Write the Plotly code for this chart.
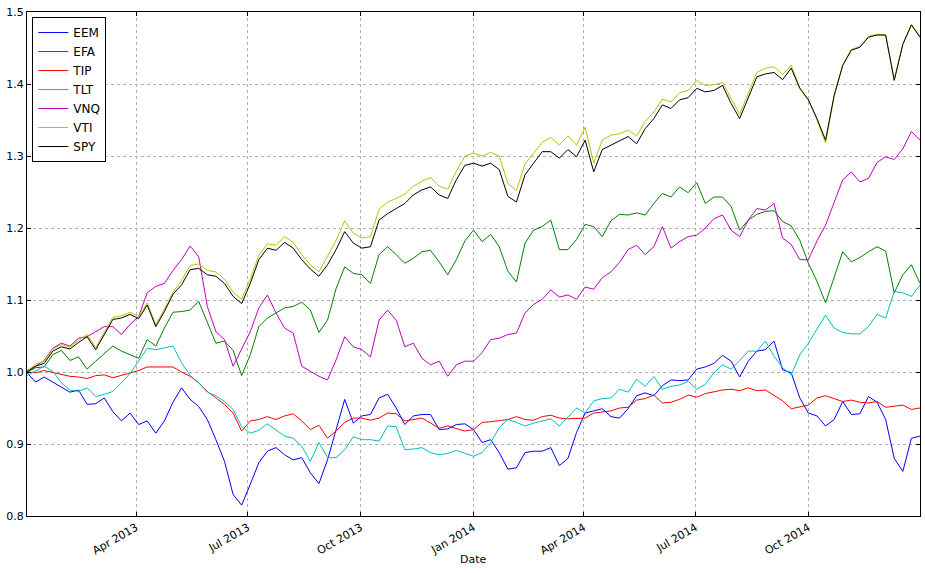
import pandas as pd
import plotly.graph_objects as go

dates = pd.date_range("2013-01-02", periods=105, freq="7D")

EEM = [0.999, 0.986, 0.993, 0.986, 0.980, 0.972, 0.975, 0.955, 0.956, 0.964, 0.945, 0.932, 0.943, 0.927, 0.932, 0.915, 0.932, 0.958,
       0.978, 0.962, 0.952, 0.934, 0.906, 0.876, 0.830, 0.815, 0.844, 0.874, 0.890, 0.895, 0.885, 0.878, 0.881, 0.860, 0.845,
       0.878, 0.920, 0.962, 0.929, 0.939, 0.941, 0.964, 0.969, 0.950, 0.927, 0.939, 0.941, 0.941, 0.920, 0.921, 0.927, 0.928,
       0.920, 0.902, 0.906, 0.888, 0.865, 0.867, 0.888, 0.890, 0.890, 0.895, 0.870, 0.880, 0.916, 0.943, 0.946, 0.949, 0.938,
       0.936, 0.949, 0.967, 0.971, 0.967, 0.981, 0.989, 0.988, 0.989, 1.004, 1.007, 1.012, 1.023, 1.015, 0.993, 1.015, 1.029,
       1.031, 1.043, 1.003, 0.999, 0.964, 0.943, 0.939, 0.925, 0.934, 0.959, 0.941, 0.942, 0.966, 0.958, 0.934, 0.880, 0.862, 0.908, 0.911]

EFA = [1.000, 1.006, 1.007, 1.024, 1.030, 1.016, 1.021, 1.004, 1.015, 1.026, 1.036, 1.029, 1.024, 1.019, 1.045, 1.036, 1.061, 1.083,
       1.084, 1.086, 1.098, 1.068, 1.040, 1.043, 1.030, 0.995, 1.024, 1.063, 1.075, 1.082, 1.089, 1.091, 1.097, 1.086, 1.055,
       1.072, 1.116, 1.146, 1.137, 1.135, 1.123, 1.163, 1.174, 1.163, 1.151, 1.158, 1.167, 1.169, 1.153, 1.135, 1.156, 1.182,
       1.197, 1.181, 1.191, 1.174, 1.140, 1.125, 1.179, 1.197, 1.202, 1.211, 1.170, 1.170, 1.184, 1.205, 1.202, 1.188, 1.210,
       1.219, 1.218, 1.221, 1.218, 1.234, 1.248, 1.243, 1.257, 1.249, 1.263, 1.234, 1.243, 1.243, 1.230, 1.197, 1.211, 1.219,
       1.223, 1.224, 1.209, 1.203, 1.183, 1.151, 1.126, 1.096, 1.130, 1.167, 1.153, 1.159, 1.167, 1.174, 1.168, 1.110, 1.135, 1.149, 1.123]

TIP = [1.000, 0.999, 1.002, 0.999, 0.996, 0.994, 0.993, 0.991, 0.995, 0.996, 0.992, 0.995, 0.998, 1.002, 1.007, 1.007, 1.008, 1.007,
       1.000, 0.994, 0.985, 0.973, 0.964, 0.955, 0.943, 0.918, 0.932, 0.934, 0.938, 0.934, 0.939, 0.942, 0.932, 0.920, 0.926,
       0.908, 0.918, 0.930, 0.936, 0.936, 0.933, 0.936, 0.943, 0.942, 0.932, 0.934, 0.936, 0.929, 0.922, 0.925, 0.921, 0.918,
       0.920, 0.930, 0.931, 0.932, 0.934, 0.938, 0.934, 0.933, 0.938, 0.940, 0.936, 0.935, 0.935, 0.936, 0.943, 0.944, 0.946,
       0.950, 0.951, 0.961, 0.963, 0.968, 0.957, 0.958, 0.962, 0.968, 0.965, 0.970, 0.973, 0.975, 0.976, 0.974, 0.978, 0.974,
       0.975, 0.968, 0.960, 0.949, 0.951, 0.954, 0.964, 0.967, 0.963, 0.959, 0.961, 0.958, 0.957, 0.959, 0.951, 0.953, 0.954, 0.948, 0.950]

TLT = [0.995, 1.002, 1.008, 1.001, 0.985, 0.975, 0.973, 0.978, 0.966, 0.969, 0.973, 0.985, 0.998, 1.015, 1.033, 1.031, 1.033, 1.036,
       1.013, 0.995, 0.985, 0.972, 0.967, 0.959, 0.948, 0.924, 0.915, 0.919, 0.928, 0.920, 0.911, 0.908, 0.897, 0.876, 0.902,
       0.881, 0.881, 0.892, 0.910, 0.906, 0.906, 0.904, 0.925, 0.924, 0.892, 0.893, 0.895, 0.888, 0.885, 0.887, 0.891, 0.887,
       0.883, 0.888, 0.902, 0.923, 0.934, 0.930, 0.925, 0.929, 0.932, 0.935, 0.925, 0.938, 0.950, 0.943, 0.960, 0.963, 0.964,
       0.976, 0.972, 0.990, 0.980, 0.994, 0.976, 0.980, 0.982, 0.987, 0.976, 0.983, 0.999, 1.010, 1.004, 1.016, 1.029, 1.029,
       1.043, 1.022, 1.006, 0.996, 1.024, 1.040, 1.059, 1.079, 1.061, 1.055, 1.053, 1.053, 1.063, 1.080, 1.075, 1.112, 1.110, 1.105, 1.121]

VNQ = [1.002, 1.008, 1.016, 1.033, 1.040, 1.036, 1.047, 1.049, 1.056, 1.063, 1.063, 1.052, 1.066, 1.077, 1.110, 1.119, 1.123, 1.141,
       1.156, 1.175, 1.160, 1.091, 1.056, 1.045, 1.008, 1.031, 1.056, 1.089, 1.107, 1.082, 1.061, 1.054, 1.008, 1.001, 0.994,
       0.989, 1.017, 1.049, 1.035, 1.031, 1.021, 1.072, 1.086, 1.072, 1.035, 1.040, 1.019, 1.010, 1.015, 0.994, 1.010, 1.015,
       1.015, 1.027, 1.045, 1.047, 1.052, 1.054, 1.082, 1.094, 1.101, 1.114, 1.104, 1.107, 1.101, 1.118, 1.115, 1.131, 1.139,
       1.152, 1.170, 1.176, 1.163, 1.174, 1.202, 1.172, 1.181, 1.188, 1.190, 1.200, 1.213, 1.218, 1.197, 1.188, 1.211, 1.227,
       1.225, 1.234, 1.186, 1.177, 1.156, 1.156, 1.182, 1.204, 1.237, 1.267, 1.278, 1.264, 1.269, 1.291, 1.299, 1.295, 1.310, 1.334, 1.322]

VTI = [1.000, 1.011, 1.015, 1.032, 1.038, 1.035, 1.044, 1.052, 1.034, 1.055, 1.076, 1.078, 1.083, 1.077, 1.096, 1.066, 1.087, 1.111,
       1.127, 1.148, 1.150, 1.141, 1.139, 1.129, 1.111, 1.101, 1.129, 1.162, 1.178, 1.176, 1.188, 1.180, 1.163, 1.149, 1.139,
       1.161, 1.183, 1.210, 1.193, 1.186, 1.188, 1.226, 1.236, 1.241, 1.247, 1.258, 1.265, 1.270, 1.258, 1.254, 1.279, 1.300,
       1.304, 1.300, 1.305, 1.300, 1.262, 1.252, 1.289, 1.304, 1.319, 1.326, 1.315, 1.328, 1.315, 1.340, 1.290, 1.322, 1.329,
       1.331, 1.336, 1.328, 1.348, 1.361, 1.379, 1.375, 1.388, 1.391, 1.405, 1.398, 1.399, 1.402, 1.380, 1.358, 1.387, 1.416,
       1.422, 1.424, 1.413, 1.426, 1.395, 1.378, 1.350, 1.318, 1.383, 1.426, 1.448, 1.452, 1.466, 1.469, 1.468, 1.406, 1.456, 1.483, 1.466]

SPY = [1.000, 1.008, 1.012, 1.029, 1.035, 1.032, 1.041, 1.049, 1.031, 1.052, 1.073, 1.075, 1.080, 1.074, 1.093, 1.063, 1.084, 1.108,
       1.121, 1.142, 1.144, 1.135, 1.133, 1.123, 1.105, 1.095, 1.123, 1.156, 1.172, 1.169, 1.180, 1.172, 1.156, 1.143, 1.133,
       1.149, 1.170, 1.195, 1.179, 1.172, 1.174, 1.211, 1.220, 1.227, 1.234, 1.246, 1.253, 1.257, 1.246, 1.241, 1.267, 1.287,
       1.290, 1.286, 1.290, 1.281, 1.244, 1.236, 1.274, 1.290, 1.306, 1.306, 1.297, 1.309, 1.299, 1.322, 1.278, 1.309, 1.315,
       1.320, 1.327, 1.317, 1.338, 1.352, 1.371, 1.366, 1.378, 1.381, 1.394, 1.389, 1.391, 1.398, 1.373, 1.352, 1.380, 1.410,
       1.414, 1.416, 1.406, 1.422, 1.394, 1.378, 1.352, 1.322, 1.384, 1.426, 1.447, 1.451, 1.465, 1.468, 1.468, 1.405, 1.455, 1.482, 1.465]

series_names = ["EEM", "EFA", "TIP", "TLT", "VNQ", "VTI", "SPY"]
series_values = [EEM, EFA, TIP, TLT, VNQ, VTI, SPY]
colors = ["#0000ff", "#008000", "#ff0000", "#00bfbf", "#bf00bf", "#bfbf00", "#000000"]

fig = go.Figure()
for name, vals, col in zip(series_names, series_values, colors):
    fig.add_trace(go.Scatter(x=dates, y=vals, mode="lines", name=name,
                             line=dict(color=col, width=1)))

font_family = "DejaVu Sans"
fig.update_layout(
    width=925, height=573,
    margin=dict(l=27, r=5, t=12, b=57, autoexpand=False),
    paper_bgcolor="white", plot_bgcolor="white",
    font=dict(family=font_family, size=11, color="black"),
    showlegend=True,
    legend=dict(x=0.006, y=0.99, xanchor="left", yanchor="top",
                bgcolor="white", bordercolor="black", borderwidth=1,
                font=dict(size=12), itemwidth=30, tracegroupgap=0),
    annotations=[dict(text="Date", xref="paper", yref="paper", x=0.5, y=-0.086,
                      xanchor="center", yanchor="middle", showarrow=False,
                      font=dict(size=11, family=font_family, color="black"))],
)
fig.update_xaxes(
    range=[dates[0], dates[-1]], automargin=False,
    tick0="2013-01-01", dtick="M3", tickformat="%b %Y",
    tickangle=-30, tickfont=dict(size=11),
    showgrid=True, gridcolor="#b0b0b0", griddash="3px,3px", gridwidth=1,
    showline=True, linecolor="black", linewidth=1, mirror="allticks",
    ticks="inside", ticklen=4, tickcolor="black",
    zeroline=False,
)
fig.update_yaxes(
    range=[0.8, 1.5], dtick=0.1, tick0=0.8, tickformat=".1f", automargin=False,
    tickfont=dict(size=11),
    showgrid=True, gridcolor="#b0b0b0", griddash="3px,3px", gridwidth=1,
    showline=True, linecolor="black", linewidth=1, mirror="allticks",
    ticks="inside", ticklen=4, tickcolor="black",
    zeroline=False,
)

fig.write_html("out.html",
               config={"displayModeBar": False},
               post_script="document.body.style.margin='0';document.body.style.overflow='hidden';")
